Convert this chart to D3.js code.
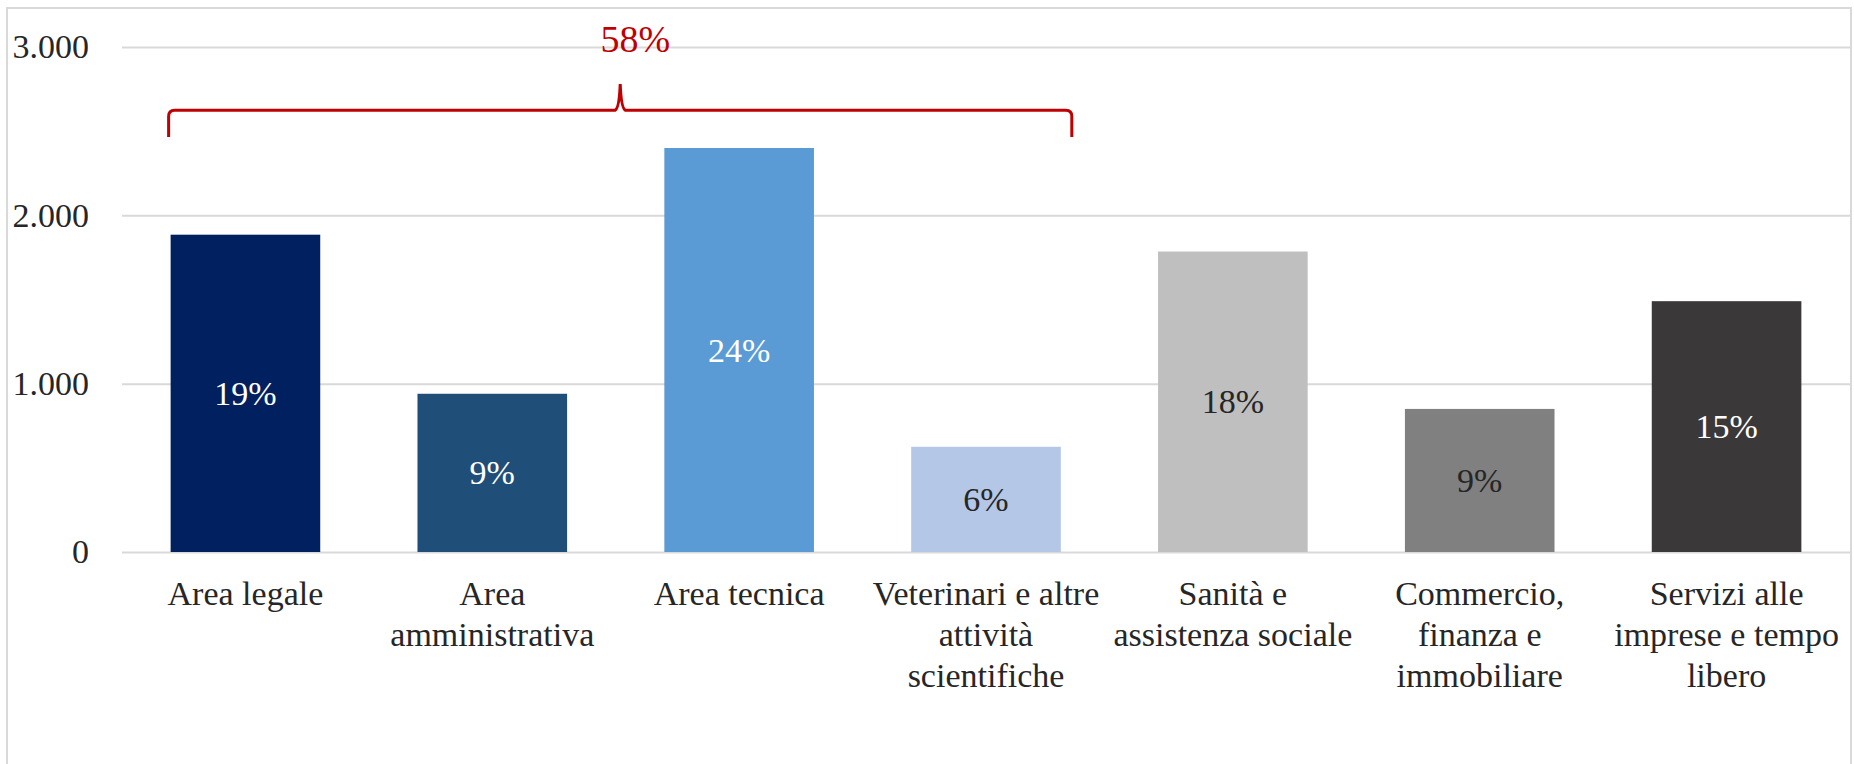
<!DOCTYPE html>
<html>
<head>
<meta charset="utf-8">
<script src="https://cdn.jsdelivr.net/npm/d3@7"></script>
<style>
  body { margin: 0; background: #fff; }
  svg { display: block; font-family: "Liberation Serif", "DejaVu Serif", serif; }
</style>
</head>
<body>
<svg id="chart" width="1854" height="764"></svg>
<script>
// data
const categories = [
  'Area legale',
  'Area\namministrativa',
  'Area tecnica',
  'Veterinari e altre\nattività\nscientifiche',
  'Sanità e\nassistenza sociale',
  'Commercio,\nfinanza e\nimmobiliare',
  'Servizi alle\nimprese e tempo\nlibero'
]
const values = [1885, 940, 2400, 625, 1785, 850, 1490]
const shares = ['19%', '9%', '24%', '6%', '18%', '9%', '15%']
const barColors = ['#002060', '#1F4E79', '#5B9BD5', '#B4C7E7', '#BFBFBF', '#808080', '#3A3838']
const labelColors = ['#ffffff', '#ffffff', '#ffffff', '#262626', '#262626', '#262626', '#ffffff']
const yTicks = [0, 1000, 2000, 3000]
const bracketLabel = '58%'
const bracketRange = [0, 3] // first and last category under the bracket

const svg = d3.select('#chart')

// outer frame
svg.append('rect')
  .attr('x', 7).attr('y', 8)
  .attr('width', 1844).attr('height', 800)
  .attr('fill', 'none')
  .attr('stroke', '#d9d9d9')
  .attr('stroke-width', 2)

const plotLeft = 122
const plotRight = 1850
const plotTop = 47
const plotBottom = 552

const itFormat = d3.formatLocale({ decimal: ',', thousands: '.', grouping: [3], currency: ['€', ''] }).format(',d')

const x = d3.scaleBand()
  .domain(categories)
  .range([plotLeft, plotRight])
  .paddingInner(0.65 / 1.65)
  .paddingOuter(0.65 / 1.65 / 2)

const y = d3.scaleLinear().domain([0, 3000]).range([plotBottom, plotTop])

// y axis with gridlines
const yAxis = svg.append('g')
  .attr('class', 'yaxis')
  .attr('transform', 'translate(' + plotLeft + ', 0)')
  .call(d3.axisLeft(y).tickValues(yTicks).tickFormat(itFormat).tickSize(-(plotRight - plotLeft)).tickPadding(33))
yAxis.select('.domain').remove()
yAxis.selectAll('line').attr('stroke', '#d9d9d9').attr('stroke-width', 2)
yAxis.selectAll('text')
  .attr('fill', '#262626')
  .style('font-size', '34px')
  .style('font-family', '"Liberation Serif", serif')

// bars
svg.append('g').selectAll('rect')
  .data(categories)
  .join('rect')
  .attr('x', function (d) { return x(d) })
  .attr('y', function (d, i) { return y(values[i]) })
  .attr('width', x.bandwidth())
  .attr('height', function (d, i) { return y(0) - y(values[i]) })
  .attr('fill', function (d, i) { return barColors[i] })

// share labels inside the bars
svg.append('g').selectAll('text')
  .data(categories)
  .join('text')
  .attr('x', function (d) { return x(d) + x.bandwidth() / 2 })
  .attr('y', function (d, i) { return (y(values[i]) + y(0)) / 2 })
  .attr('text-anchor', 'middle')
  .attr('dominant-baseline', 'central')
  .attr('fill', function (d, i) { return labelColors[i] })
  .style('font-size', '34px')
  .text(function (d, i) { return shares[i] })

// category labels, several lines each
const catLabels = svg.append('g').selectAll('text')
  .data(categories)
  .join('text')
  .attr('x', function (d) { return x(d) + x.bandwidth() / 2 })
  .attr('y', y(0) + 53)
  .attr('text-anchor', 'middle')
  .attr('fill', '#262626')
  .style('font-size', '34px')
catLabels.each(function (d) {
  const t = d3.select(this)
  d.split('\n').forEach(function (line, k) {
    t.append('tspan')
      .attr('x', x(d) + x.bandwidth() / 2)
      .attr('dy', k === 0 ? 0 : 41)
      .text(line)
  })
})

// red curly bracket over the first four categories
const bx0 = x(categories[bracketRange[0]]) - 2
const bx1 = x(categories[bracketRange[1]]) + x.bandwidth() + 11
const bmid = (bx0 + bx1) / 2
const lineY = y(2625)
const endY = y(2465)
const tipY = y(2780)
const r = 6
const bracket = d3.path()
bracket.moveTo(bx0, endY)
bracket.lineTo(bx0, lineY + r)
bracket.quadraticCurveTo(bx0, lineY, bx0 + r, lineY)
bracket.lineTo(bmid - 5, lineY)
bracket.quadraticCurveTo(bmid - 1, lineY - 2, bmid, tipY)
bracket.quadraticCurveTo(bmid + 1, lineY - 2, bmid + 5, lineY)
bracket.lineTo(bx1 - r, lineY)
bracket.quadraticCurveTo(bx1, lineY, bx1, lineY + r)
bracket.lineTo(bx1, endY)

svg.append('path')
  .attr('d', bracket.toString())
  .attr('fill', 'none')
  .attr('stroke', '#C00000')
  .attr('stroke-width', 3)

svg.append('text')
  .attr('x', bmid + 15)
  .attr('y', y(3050))
  .attr('text-anchor', 'middle')
  .attr('dominant-baseline', 'central')
  .attr('fill', '#C00000')
  .style('font-size', '38px')
  .text(bracketLabel)
</script>
</body>
</html>
